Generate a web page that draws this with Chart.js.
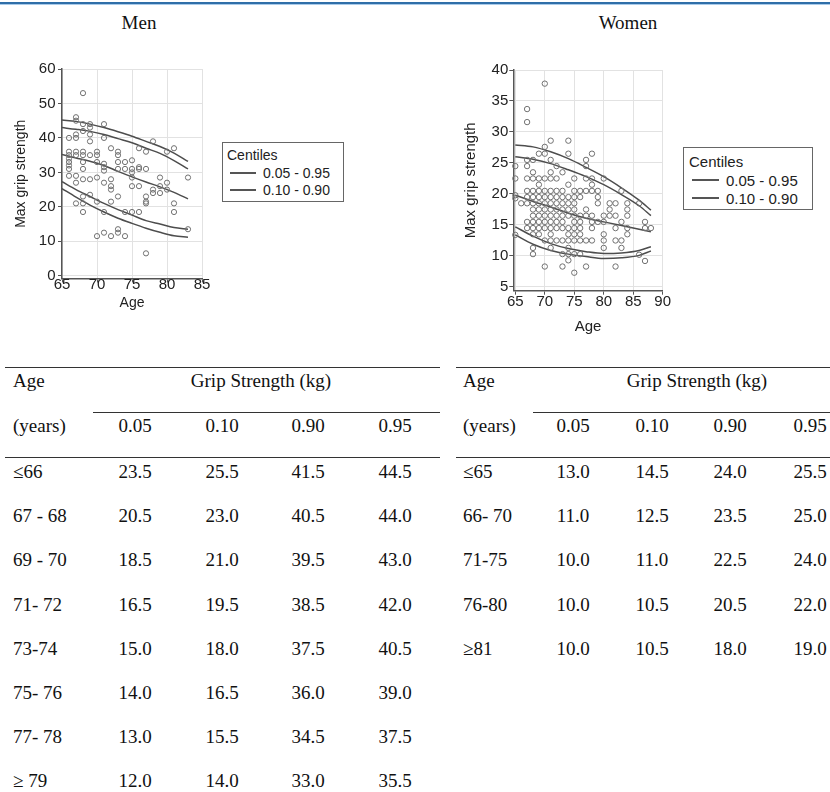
<!DOCTYPE html>
<html><head><meta charset="utf-8">
<script src="https://cdn.jsdelivr.net/npm/chart.js@4.4.1/dist/chart.umd.min.js"></script>
<style>
body{margin:0;width:830px;height:792px;position:relative;background:#fff;overflow:hidden;font-family:"Liberation Serif","Times New Roman",serif;color:#111}
canvas{position:absolute}
.t{position:absolute;font-size:19px;line-height:1;white-space:nowrap;transform:translateY(-50%)}
.c{transform:translate(-50%,-50%)}
.hl{position:absolute;height:1px;background:#333}
.leg{position:absolute;border:1.5px solid #666;box-sizing:border-box;font-family:"Liberation Sans",Arial,sans-serif;color:#222}
.leg span{position:absolute;white-space:nowrap;line-height:1;transform:translateY(-50%)}
.leg i{position:absolute;height:1.5px;background:#555;display:block}
</style></head><body>
<div style="position:absolute;left:0;top:2px;width:830px;height:2px;background:#2f6ea8"></div>
<div style="position:absolute;left:0;top:4px;width:830px;height:1px;background:#a9cbea"></div>
<div class="t c" style="left:139px;top:22px">Men</div>
<div class="t c" style="left:628px;top:22px">Women</div>
<canvas id="men" width="215" height="270" style="left:0;top:50px"></canvas>
<canvas id="women" width="225" height="295" style="left:455px;top:50px"></canvas>
<div class="leg" style="left:222px;top:142px;width:122px;height:60px;font-size:14px">
 <span style="left:4px;top:12px">Centiles</span>
 <i style="left:7px;top:29px;width:26px"></i><span style="left:40px;top:30px">0.05 - 0.95</span>
 <i style="left:7px;top:46px;width:26px"></i><span style="left:40px;top:47px">0.10 - 0.90</span>
</div>
<div class="leg" style="left:683px;top:147px;width:130px;height:63px;font-size:15px">
 <span style="left:5px;top:13px">Centiles</span>
 <i style="left:8px;top:31px;width:27px"></i><span style="left:42px;top:32px">0.05 - 0.95</span>
 <i style="left:8px;top:49px;width:27px"></i><span style="left:42px;top:50px">0.10 - 0.90</span>
</div>
<div id="tables"></div>
<script>
// ---------- Men scatter data ----------
const menAge = [64,
 66,66,66,66,66,66,66,66,
 67,67,67,67,67,67,67,67,67,
 68,68,68,68,68,68,68,68,68,68,68,
 69,69,69,69,69,69,69,
 70,70,70,70,70,70,
 71,71,71,71,71,71,71,71,
 72,72,72,72,72,72,
 73,73,73,73,73,73,73,
 74,74,74,74,
 75,75,75,75,75,75,
 76,76,76,76,76,
 77,77,77,77,77,77,
 78,78,78,
 79,79,79,
 80,80,80,
 81,81,81,
 83,83];
const menGrip = [33,
 40,36,35,34,33,32,31,29,
 46,45,41,40,36,35,29,27,21,
 53,44,42,36,35,33,31,28,23,21,18.5,
 44,43,41,39,35,28,23.5,
 36,35,33,28.5,21.5,11.5,
 44,40,32.5,31.5,30.5,27,18.5,12.5,
 37,28,26,25,21.5,11.5,
 36,35,33,31,23,13.5,12.5,
 33,31,18.5,11.5,
 33.5,31,30,28.5,26,18.5,
 37,31.5,31,26,18.5,
 36,31,23,21.5,21,6.5,
 39,25,24,
 28.5,26,24,
 36,27,25,
 37,21,18.5,
 28.5,13.5];
const menCurveAge = [65,67,69,71,73,75,77,79,81,83];
const menC95 = [45.2,44.8,44.0,43.0,41.8,40.5,39.0,37.5,35.6,33.2];
const menC90 = [43.0,42.5,41.9,41.0,39.8,38.6,37.0,35.5,33.4,31.0];
const menC50 = [35.2,34.2,33.2,32.0,30.3,28.7,27.2,25.8,24.2,22.3];
const menC10 = [27.3,25.0,23.0,21.0,19.2,17.6,16.0,15.0,14.0,13.5];
const menC05 = [25.3,22.8,20.5,18.5,16.7,15.2,13.8,12.6,11.6,11.2];
const menXTicks = [65,70,75,80,85];
const menYTicks = [0,10,20,30,40,50,60];

// ---------- Women scatter data ----------
const womenAge = [
 65,65,65,65,65,
 66,
 67,67,67,67,67,67,67,67,67,67,
 68,68,68,68,68,68,68,68,68,68,68,68,68,
 69,69,69,69,69,69,69,69,69,69,69,
 70,70,70,70,70,70,70,70,70,70,70,70,70,
 71,71,71,71,71,71,71,71,71,71,71,71,71,71,
 72,72,72,72,72,72,72,72,72,72,
 73,73,73,73,73,73,73,73,73,73,73,
 74,74,74,74,74,74,74,74,74,74,74,74,74,
 75,75,75,75,75,75,75,75,75,75,75,75,
 76,76,76,76,76,76,76,76,
 77,77,77,77,77,77,77,77,
 78,78,78,78,78,78,78,78,
 79,79,79,79,
 80,80,80,80,80,80,
 81,81,81,
 82,82,82,82,82,
 83,83,83,83,
 84,84,84,84,84,
 86,86,
 87,87,87,
 88];
const womenGrip = [
 24.5,22.5,19.8,19.3,13.4,
 18.5,
 33.7,31.6,25.5,24.5,22.5,20.5,19.5,18.5,15.5,14.5,
 25.5,23.5,22.5,20.5,19.5,18.5,17.5,16.5,15.5,14.5,13.5,11.3,10.3,
 26.5,22.5,21.5,20.5,19.5,18.5,17.5,16.5,15.5,14.5,13.5,
 37.8,27.6,26.5,22.5,20.5,19.5,18.5,17.5,16.5,15.5,14.5,12.5,8.3,
 28.6,25.5,23.5,22.5,20.5,19.5,18.5,17.5,16.5,15.5,14.5,13.5,12.5,11.3,
 24.5,22.5,20.5,19.5,18.5,17.5,16.5,15.5,14.5,12.5,
 23.5,20.5,19.5,18.5,17.5,16.5,15.5,14.5,12.5,10.3,8.3,
 28.6,26.5,21.5,19.5,18.5,17.5,16.5,14.5,13.5,12.5,11.3,10.3,9.3,
 22.5,20.5,19.5,18.5,17.5,16.5,15.5,14.5,13.5,12.5,10.3,7.3,
 20.5,19.5,16.5,15.5,14.5,13.5,12.5,10.3,
 25.5,24.5,22.5,20.5,17.5,16.5,12.5,8.3,
 26.5,22.5,21.5,20.5,16.5,15.5,14.5,12.5,
 20.5,19.5,18.5,15.5,
 22.5,16.5,15.5,13.5,12.5,11.3,
 18.5,17.5,16.5,
 18.5,16.5,14.5,12.5,8.3,
 20.5,15.5,12.5,11.3,
 18.5,17.5,16.5,14.5,13.5,
 18.5,10.2,
 15.5,14.5,9.2,
 14.5];
const womenCurveAge = [65,68,71,74,77,80,83,86,88];
const womenC95 = [27.9,27.6,26.8,25.7,24.3,22.8,21.0,19.0,17.4];
const womenC90 = [26.0,25.6,24.9,23.9,22.8,21.5,19.9,18.1,16.5];
const womenC50 = [19.8,18.8,17.9,16.9,16.1,15.5,14.9,14.3,13.9];
const womenC10 = [14.7,13.2,12.0,11.2,10.7,10.4,10.5,10.9,11.5];
const womenC05 = [13.4,11.9,10.9,10.3,9.9,9.6,9.7,10.1,10.8];
const womenXTicks = [65,70,75,80,85,90];
const womenYTicks = [5,10,15,20,25,30,35,40];

// ---------- Table data ----------
const pctHeaders = ['0.05','0.10','0.90','0.95'];
const menGroups = ['\u226466','67 - 68','69 - 70','71- 72','73-74','75- 76','77- 78','\u2265 79'];
const menT05 = ['23.5','20.5','18.5','16.5','15.0','14.0','13.0','12.0'];
const menT10 = ['25.5','23.0','21.0','19.5','18.0','16.5','15.5','14.0'];
const menT90 = ['41.5','40.5','39.5','38.5','37.5','36.0','34.5','33.0'];
const menT95 = ['44.5','44.0','43.0','42.0','40.5','39.0','37.5','35.5'];
const womenGroups = ['\u226465','66- 70','71-75','76-80','\u226581'];
const womenT05 = ['13.0','11.0','10.0','10.0','10.0'];
const womenT10 = ['14.5','12.5','11.0','10.5','10.5'];
const womenT90 = ['24.0','23.5','22.5','20.5','18.0'];
const womenT95 = ['25.5','25.0','24.0','22.0','19.0'];

Chart.defaults.font.family = '"Liberation Sans", Arial, sans-serif';
Chart.defaults.color = '#222';

function makeChart(id, o) {
  const pts = o.ages.map((a, i) => ({x: a, y: o.grip[i]}));
  const curves = o.curves.map(c => ({
    data: o.curveAge.map((a, i) => ({x: a, y: c[i]})),
    showLine: true, borderColor: '#4d4d4d', borderWidth: 1.5, pointRadius: 0,
    tension: 0.4, cubicInterpolationMode: 'monotone', fill: false
  }));
  new Chart(document.getElementById(id), {
    type: 'scatter',
    data: {datasets: [{
      data: pts, pointStyle: 'circle', pointRadius: o.r, borderColor: '#707070',
      borderWidth: 1, backgroundColor: 'rgba(255,255,255,0)', clip: false
    }, ...curves]},
    options: {
      responsive: false, animation: false, events: [],
      layout: {padding: {top: o.padTop, right: o.padRight, left: 0, bottom: 0}},
      plugins: {legend: {display: false}, tooltip: {enabled: false}},
      scales: {
        x: {
          type: 'linear', min: o.xMin, max: o.xMax,
          afterBuildTicks: s => { s.ticks = o.xTicks.map(v => ({value: v})); },
          afterFit: s => { s.height = o.xH; },
          grid: {color: '#e2e2e2', tickColor: '#555', tickLength: 4, lineWidth: 1},
          border: {color: '#555', width: 1.5},
          ticks: {font: {size: o.tickSize}, color: '#222', padding: o.xPad, maxRotation: 0, autoSkip: false},
          title: {display: true, text: 'Age', font: {size: o.titleSize}, color: '#222', padding: {top: 0, bottom: o.xTitlePad}}
        },
        y: {
          type: 'linear', min: o.yMin, max: o.yMax,
          afterBuildTicks: s => { s.ticks = o.yTicks.map(v => ({value: v})); },
          afterFit: s => { s.width = o.yW; },
          grid: {color: '#e2e2e2', tickColor: '#555', tickLength: 4, lineWidth: 1},
          border: {color: '#555', width: 1.5},
          ticks: {font: {size: o.tickSize}, color: '#222', padding: o.yPad, autoSkip: false},
          title: {display: true, text: 'Max grip strength', font: {size: o.titleSize}, color: '#222', padding: {top: o.yTitlePad, bottom: 0}}
        }
      }
    }
  });
}

makeChart('men', {
  ages: menAge, grip: menGrip, curveAge: menCurveAge,
  curves: [menC95, menC90, menC50, menC10, menC05],
  xTicks: menXTicks, yTicks: menYTicks,
  xMin: 65, xMax: 85, yMin: -0.8, yMax: 60,
  padTop: 19, padRight: 13, yW: 62, xH: 41.5, r: 2.6,
  tickSize: 15, titleSize: 14, xPad: -7, yPad: 2.5, xTitlePad: 8.6, yTitlePad: 12.6
});
makeChart('women', {
  ages: womenAge, grip: womenGrip, curveAge: womenCurveAge,
  curves: [womenC95, womenC90, womenC50, womenC10, womenC05],
  xTicks: womenXTicks, yTicks: womenYTicks,
  xMin: 64.66, xMax: 90, yMin: 4.4, yMax: 40,
  padTop: 20, padRight: 17.3, yW: 58.3, xH: 54.3, r: 2.7,
  tickSize: 15, titleSize: 15, xPad: -1.4, yPad: 1, xTitlePad: 9, yTitlePad: 7
});

// ---------- Tables ----------
const tables = document.getElementById('tables');
function txt(s, x, y, center) {
  const d = document.createElement('div');
  d.className = center ? 't c' : 't';
  d.style.left = x + 'px'; d.style.top = y + 'px';
  d.textContent = s; tables.appendChild(d);
}
function hline(x1, x2, y) {
  const d = document.createElement('div');
  d.className = 'hl';
  d.style.left = x1 + 'px'; d.style.top = y + 'px'; d.style.width = (x2 - x1) + 'px';
  tables.appendChild(d);
}
function table(t) {
  hline(t.x1, t.x2, 367); hline(t.mid, t.x2, 412); hline(t.x1, t.x2, 457);
  txt('Age', t.lab, 380); txt('Grip Strength (kg)', t.gs, 380, true);
  txt('(years)', t.lab, 425);
  pctHeaders.forEach((h, j) => txt(h, t.cols[j], 425, true));
  t.groups.forEach((g, i) => {
    const y = 471 + i * 44.2;
    txt(g, t.lab, y);
    t.vals.forEach((col, j) => txt(col[i], t.cols[j], y, true));
  });
}
table({x1: 5, x2: 440, mid: 93, lab: 13, gs: 261, cols: [135, 222, 308, 395],
  groups: menGroups, vals: [menT05, menT10, menT90, menT95]});
table({x1: 456, x2: 830, mid: 533, lab: 463, gs: 697, cols: [573, 652, 730, 810],
  groups: womenGroups, vals: [womenT05, womenT10, womenT90, womenT95]});
</script>
</body></html>
